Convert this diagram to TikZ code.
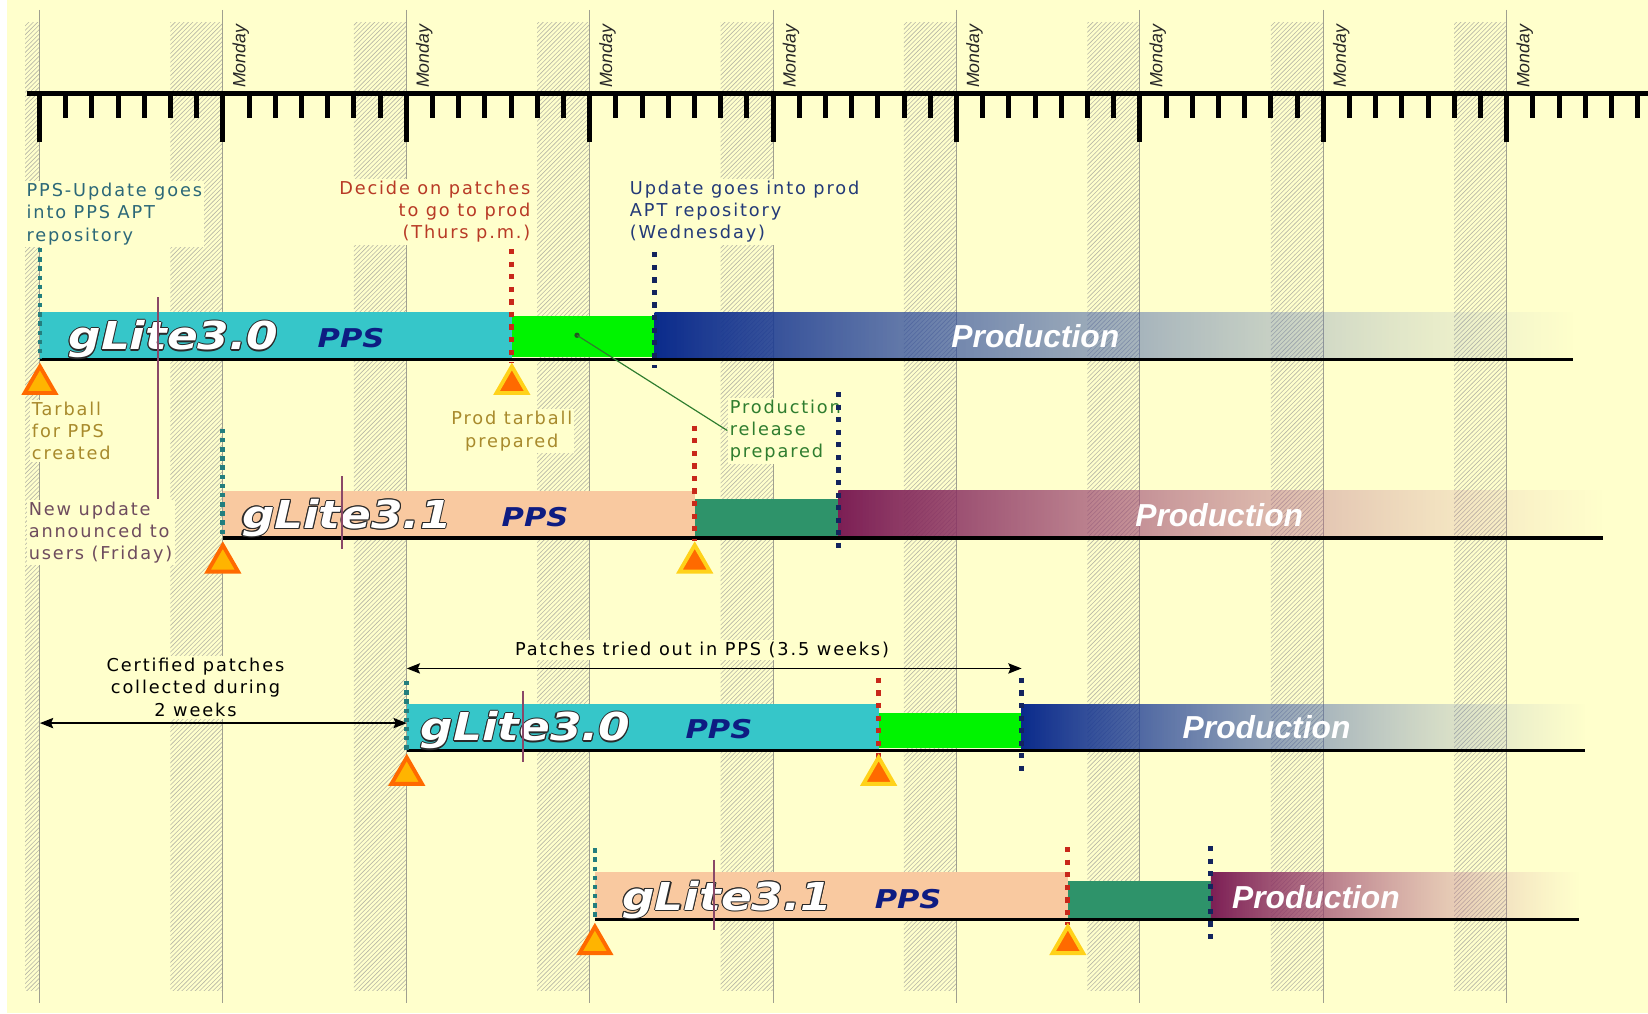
\documentclass[tikz,border=0pt]{standalone}
\usepackage{fontspec}
\usetikzlibrary{patterns,fadings,shapes.geometric,arrows.meta}
\newfontfamily\handfont{DejaVu Sans}[LetterSpace=10.5]
\newfontfamily\widefont{DejaVu Sans}[FakeStretch=1.18]
\newfontfamily\narrowfont{Liberation Sans}
%
\definecolor{bgyel}{HTML}{FFFFCC}
\definecolor{hatchgray}{HTML}{B8B8A6}
\definecolor{mondaygray}{HTML}{A0A090}
\definecolor{ppscyan}{HTML}{36C6C9}
\definecolor{relgreen}{HTML}{00F400}
\definecolor{prodnavy}{HTML}{0B2B8C}
\definecolor{prodsky}{HTML}{7A94C8}
\definecolor{ppspeach}{HTML}{F9C9A0}
\definecolor{reldkgreen}{HTML}{2E936A}
\definecolor{prodmaroon}{HTML}{7C1F55}
\definecolor{prodpink}{HTML}{D890A8}
\definecolor{dotteal}{HTML}{237E7E}
\definecolor{dotred}{HTML}{C8281A}
\definecolor{dotnavy}{HTML}{13245E}
\definecolor{annmauve}{HTML}{8A4868}
\definecolor{triorange}{HTML}{FF6A00}
\definecolor{triamber}{HTML}{FFB400}
\definecolor{triyellow}{HTML}{FFD21A}
\definecolor{txtteal}{HTML}{2C6878}
\definecolor{txtred}{HTML}{B83A26}
\definecolor{txtnavy}{HTML}{233A78}
\definecolor{txtgold}{HTML}{A88A2C}
\definecolor{txtgreen}{HTML}{2F7D2F}
\definecolor{txtplum}{HTML}{6E4C5E}
\definecolor{ppsnavy}{HTML}{0E1C82}
\definecolor{rimgray}{HTML}{2A2A2A}
%
\tikzfading[name=prodfade, left color=transparent!0, middle color=transparent!15, right color=transparent!100]
%
\newcommand\rimmed[1]{\leavevmode
  \rlap{\kern.7pt\textcolor{rimgray}{#1}}%
  \rlap{\kern-.7pt\textcolor{rimgray}{#1}}%
  \rlap{\raisebox{.7pt}{\textcolor{rimgray}{#1}}}%
  \rlap{\raisebox{-.7pt}{\textcolor{rimgray}{#1}}}%
  \rlap{\kern.5pt\raisebox{.5pt}{\textcolor{rimgray}{#1}}}%
  \rlap{\kern-.5pt\raisebox{-.5pt}{\textcolor{rimgray}{#1}}}%
  \rlap{\kern.5pt\raisebox{-.5pt}{\textcolor{rimgray}{#1}}}%
  \rlap{\kern-.5pt\raisebox{.5pt}{\textcolor{rimgray}{#1}}}%
  \textcolor{white}{#1}}
%
\tikzset{
  hatchcol/.style={pattern=north east lines, pattern color=hatchgray},
  mondayline/.style={draw=mondaygray, line width=0.6pt},
  axisline/.style={line width=4pt},
  daytick/.style={line width=3.4pt},
  mondaylabel/.style={rotate=90, anchor=north west, inner sep=0pt, text=black!85,
    font=\narrowfont\itshape\fontsize{12}{13}\selectfont},
  note/.style={inner sep=1.5pt, fill=bgyel, font=\handfont\fontsize{12}{15}\selectfont},
  basebar/.style={line width=2.4pt},
  glite/.style={anchor=base west, inner sep=0pt,
    font=\widefont\bfseries\itshape\fontsize{26}{28}\selectfont},
  ppsmark/.style={anchor=base west, inner sep=0pt, text=ppsnavy,
    font=\widefont\bfseries\itshape\fontsize{17.5}{19}\selectfont},
  prodmark/.style={anchor=base west, inner sep=0pt, text=white,
    font=\narrowfont\bfseries\itshape\fontsize{21.5}{23}\selectfont},
  tealdots/.style={dotteal, line width=3.2pt, dash pattern=on 3pt off 3.2pt},
  reddots/.style={dotred, line width=3.2pt, dash pattern=on 3.5pt off 5pt},
  navydots/.style={dotnavy, line width=3.2pt, dash pattern=on 3.5pt off 5pt},
  announce/.style={annmauve, line width=1.3pt},
  tarpps/.style={regular polygon, regular polygon sides=3, anchor=north,
    draw=triorange, fill=triamber, line width=2.6pt, minimum size=0.84cm, inner sep=0pt},
  tarprod/.style={tarpps, draw=triyellow, fill=triorange},
  span/.style={<->, >={Stealth[length=9pt, width=7pt, inset=1.5pt]}, line width=0.9pt},
  leader/.style={txtgreen, line width=0.8pt}
}
\begin{document}
\begin{tikzpicture}[x=0.025cm, y=-0.025cm]
  \useasboundingbox (0,0) rectangle (1568,964);
  \fill[bgyel] (7,0) rectangle (1568,964);                 % paper
  %
  \fill[hatchcol] (24,21) rectangle (37.5,942);             % weekends
  \foreach \w in {1,...,8}
    \fill[hatchcol] ({37.5+174.5*\w-49.9},21) rectangle ({37.5+174.5*\w},942);
  \foreach \w in {0,...,8}
    \draw[mondayline] ({37.5+174.5*\w},9.5) -- ({37.5+174.5*\w},954);
  %
  \draw[axisline] (25.5,89) -- (1568,89);                  % time axis
  \foreach \d in {0,...,61}{
    \pgfmathsetmacro{\tx}{37.5+24.93*\d}
    \pgfmathsetmacro{\tlen}{ifthenelse(mod(\d,7)==0,135,112)}
    \draw[daytick] (\tx,89) -- (\tx,\tlen);
  }
  \foreach \w in {1,...,8}
    \node[mondaylabel] (mon\w) at ({37.5+174.5*\w+9},84) {Monday};
  %
  \node[note, text=txtteal, align=left, anchor=north west] (ppsupd) at (23,172)
    {PPS-Update goes\\into PPS APT\\repository};
  \node[note, text=txtred, align=right, anchor=north east] (decide) at (507,170)
    {Decide on patches\\to go to prod\\(Thurs p.m.)};
  \node[note, text=txtnavy, align=left, anchor=north west] (aptprod) at (597,170)
    {Update goes into prod\\APT repository\\(Wednesday)};
  \node[note, text=txtgold, align=left, anchor=north west] (tarnote) at (28,380)
    {Tarball\\for PPS\\created};
  \node[note, text=txtgold, align=center, anchor=north] (prodtar) at (487,389)
    {Prod tarball\\prepared};
  \node[note, text=txtgreen, align=left, anchor=north west] (relprep) at (692,378)
    {Production\\release\\prepared};
  \node[note, text=txtplum, align=left, anchor=north west] (newupd) at (25,475)
    {New update\\announced to\\users (Friday)};
  %
  % gLite3.0, first cycle
  \fill[ppscyan] (38,297) rectangle (487,342);
  \fill[relgreen] (487,301) rectangle (623,340);
  \shade[left color=prodnavy, right color=prodsky, path fading=prodfade] (623,297) rectangle (1497,342);
  \draw[basebar] (38,342) -- (1497,342);
  \node[glite] (glA) at (65,333) {\rimmed{gLite3.0}};
  \node[ppsmark] (ppsA) at (302,331) {PPS};
  \node[prodmark] (prodA) at (905,331) {Production};
  \draw[announce] (150,283) -- (150,475);
  \draw[tealdots] (38,236) -- (38,342);
  \draw[reddots] (487,237) -- (487,345);
  \draw[navydots] (623,240) -- (623,350);
  \node[tarpps] (tarA) at (38,345) {};
  \node[tarprod] (tarAp) at (487,345) {};
  %
  % gLite3.1, first cycle
  \fill[ppspeach] (212,467) rectangle (661,512);
  \fill[reldkgreen] (661,475) rectangle (798,510);
  \shade[left color=prodmaroon, right color=prodpink, path fading=prodfade] (798,467) rectangle (1525,512);
  \draw[basebar] (212,512) -- (1525,512);
  \node[glite] (glB) at (230,503) {\rimmed{gLite3.1}};
  \node[ppsmark] (ppsB) at (477,501) {PPS};
  \node[prodmark] (prodB) at (1080,501) {Production};
  \draw[announce] (325,453) -- (325,522);
  \draw[tealdots] (212,408) -- (212,512);
  \draw[reddots] (661,405) -- (661,515);
  \draw[navydots] (798,373) -- (798,522);
  \node[tarpps] (tarB) at (212,515) {};
  \node[tarprod] (tarBp) at (661,515) {};
  %
  % gLite3.0, second cycle
  \fill[ppscyan] (387,670) rectangle (836,714);
  \fill[relgreen] (836,678) rectangle (972,712);
  \shade[left color=prodnavy, right color=prodsky, path fading=prodfade] (972,670) rectangle (1508,714);
  \draw[basebar] (387,714) -- (1508,714);
  \node[glite] (glC) at (400,705) {\rimmed{gLite3.0}};
  \node[ppsmark] (ppsC) at (652,703) {PPS};
  \node[prodmark] (prodC) at (1125,703) {Production};
  \draw[announce] (498,657) -- (498,725);
  \draw[tealdots] (387,648) -- (387,714);
  \draw[reddots] (836,645) -- (836,722);
  \draw[navydots] (972,645) -- (972,738);
  \node[tarpps] (tarC) at (387,717) {};
  \node[tarprod] (tarCp) at (836,717) {};
  %
  % gLite3.1, second cycle
  \fill[ppspeach] (566,830) rectangle (1016,875);
  \fill[reldkgreen] (1016,838) rectangle (1152,873);
  \shade[left color=prodmaroon, right color=prodpink, path fading=prodfade] (1152,830) rectangle (1502,875);
  \draw[basebar] (566,875) -- (1502,875);
  \node[glite] (glD) at (592,866) {\rimmed{gLite3.1}};
  \node[ppsmark] (ppsD) at (832,864) {PPS};
  \node[prodmark] (prodD) at (1172,864) {Production};
  \draw[announce] (679,818) -- (679,885);
  \draw[tealdots] (566,807) -- (566,875);
  \draw[reddots] (1016,806) -- (1016,880);
  \draw[navydots] (1152,805) -- (1152,895);
  \node[tarpps] (tarD) at (566,878) {};
  \node[tarprod] (tarDp) at (1016,878) {};
  %
  \coordinate (reldot) at (549,319);                       % release pointer
  \fill[txtgreen!70!black] (reldot) circle (1.8pt);
  \draw[leader] (reldot) -- (relprep.west);
  %
  \node[note, anchor=base, text=black] (triednote) at (668,624)
    {Patches tried out in PPS (3.5 weeks)};
  \coordinate (tryL) at (387,636);
  \coordinate (tryR) at (972,636);
  \draw[span] (tryL) -- (tryR);
  %
  \node[note, align=center, anchor=north, text=black] (certnote) at (186,624)
    {Certified patches\\collected during\\2 weeks};
  \coordinate (certL) at (38,688);
  \coordinate (certR) at (387,688);
  \draw[span] (certL) -- (certR);
\end{tikzpicture}
\end{document}
